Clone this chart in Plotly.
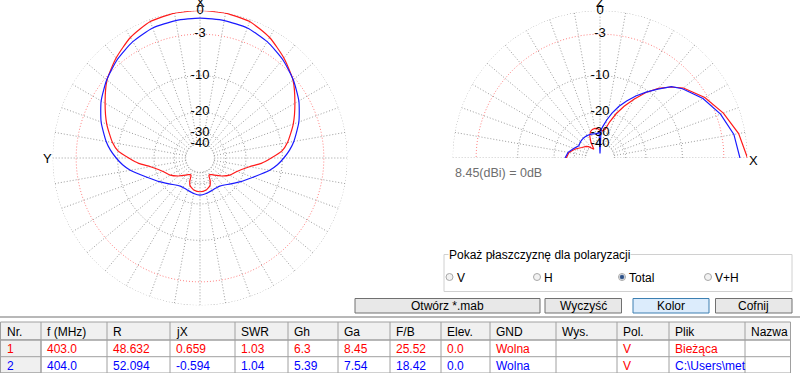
import plotly.graph_objects as go

W, H = 800, 373

# ---------------- data ----------------
# Horizontal-plane (azimuth) pattern, dB relative to 8.45 dBi (0 deg = X, 90 deg = Y)
az_theta = [0, 10, 20, 30, 40, 50, 60, 70, 80, 85, 90, 95, 100, 110, 120, 130, 140, 145, 150, 153, 156, 160, 170, 180,
            190, 200, 204, 207, 210, 215, 220, 230, 240, 250, 260, 265, 270, 275, 280, 290, 300, 310, 320, 330, 340, 350, 360]
az_red = [0.0, -0.05, -0.27, -1.0, -2.1, -3.35, -5.1, -6.8, -8.7, -10.0, -12.5, -15.0, -18.5, -22.7, -25.0, -28.5, -32.3, -34.0, -35.0, -34.5, -30.5, -27.8, -25.8, -25.3,
          -25.8, -27.8, -30.5, -34.5, -35.0, -34.0, -32.3, -28.5, -25.0, -22.7, -18.5, -15.0, -12.5, -10.0, -8.7, -6.8, -5.1, -3.35, -2.1, -1.0, -0.27, -0.05, 0.0]
az_blue = [-0.9, -0.95, -1.1, -1.6, -2.35, -3.3, -4.4, -5.8, -7.5, -8.5, -9.7, -11.0, -12.6, -16.5, -19.5, -22.3, -24.4, -25.0, -25.2, -25.2, -25.1, -24.9, -24.2, -23.7,
           -24.2, -24.9, -25.1, -25.2, -25.2, -25.0, -24.4, -22.3, -19.5, -16.5, -12.6, -11.0, -9.7, -8.5, -7.5, -5.8, -4.4, -3.3, -2.35, -1.6, -1.1, -0.95, -0.9]

# Vertical-plane (elevation) pattern, 0 deg = X horizon, 90 deg = Z
el_theta = [0, 10, 20, 30, 40, 45, 50, 55, 60, 65, 70, 75, 80, 85, 88, 90, 92, 95, 100, 105, 110, 115, 120, 125, 130, 135, 140, 150, 160, 170, 180]
el_red = [0.0, -0.8, -2.0, -3.4, -5.2, -6.6, -8.3, -10.5, -13.3, -16.3, -19.6, -23.5, -28.0, -29.0, -28.8, -28.5, -28.2, -27.6, -27.3, -27.6, -28.5, -31.0, -36.0, -45.0, -42.0, -38.0, -36.0, -33.5, -29.5, -26.5, -25.3]
el_blue = [-0.9, -1.4, -2.4, -3.7, -5.4, -6.5, -8.5, -10.4, -12.4, -14.6, -17.0, -19.8, -23.0, -26.5, -28.5, -60.0, -29.5, -30.5, -30.8, -30.5, -30.2, -30.0, -29.9, -29.9, -29.9, -30.0, -30.2, -30.8, -28.5, -26.0, -24.7]

ring_db = [0, -3, -10, -20, -30, -40]
ring_labels = ["0", "-3", "-10", "-20", "-30", "-40"]
ref_text = "8.45(dBi) = 0dB"

columns = ["Nr.", "f (MHz)", "R", "jX", "SWR", "Gh", "Ga", "F/B", "Elev.", "GND", "Wys.", "Pol.", "Plik", "Nazwa"]
row1 = ["1", "403.0", "48.632", "0.659", "1.03", "6.3", "8.45", "25.52", "0.0", "Wolna", "", "V", "Bieżąca", ""]
row2 = ["2", "404.0", "52.094", "-0.594", "1.04", "5.39", "7.54", "18.42", "0.0", "Wolna", "", "V", "C:\\Users\\met", ""]

radio_labels = ["V", "H", "Total", "V+H"]
button_labels = ["Otwórz *.mab", "Wyczyść", "Kolor", "Cofnij"]
group_title = "Pokaż płaszczyznę dla polaryzacji"

# ---------------- helpers ----------------
RED = "#ff1a1a"
BLUE = "#1a1aff"
GRID = "#9a9a9a"
FONT = "Liberation Sans, Arial, sans-serif"


def rad(db):
    # ARRL log scale used by MMANA
    return 0.89 ** (-db / 2.0)


def X(px):
    return px / W


def Y(py):
    return 1 - py / H


fig = go.Figure()


def add_grid(sub, full):
    tmax = 360 if full else 180
    thetas = list(range(0, tmax + 1, 2))
    for db in ring_db:
        col = "#ff8080" if db == -3 else GRID
        fig.add_trace(go.Scatterpolar(r=[rad(db)] * len(thetas), theta=thetas, mode="lines",
                                      line=dict(color=col, width=1, dash="1px,2px"),
                                      subplot=sub, showlegend=False, hoverinfo="skip", cliponaxis=False))
    rr, tt = [], []
    for a in range(0, tmax + (0 if full else 1), 10):
        rr += [rad(-40), 1.0, None]
        tt += [a, a, None]
    fig.add_trace(go.Scatterpolar(r=rr, theta=tt, mode="lines",
                                  line=dict(color=GRID, width=1, dash="1px,2px"),
                                  subplot=sub, showlegend=False, hoverinfo="skip", cliponaxis=False))


add_grid("polar", True)
add_grid("polar2", False)

# curves
fig.add_trace(go.Scatterpolar(r=[rad(v) for v in az_red], theta=az_theta, mode="lines",
                              line=dict(color=RED, width=1.2, shape="spline", smoothing=0.6),
                              subplot="polar", showlegend=False, cliponaxis=False))
fig.add_trace(go.Scatterpolar(r=[rad(v) for v in az_blue], theta=az_theta, mode="lines",
                              line=dict(color=BLUE, width=1.2, shape="spline", smoothing=0.6),
                              subplot="polar", showlegend=False, cliponaxis=False))
fig.add_trace(go.Scatterpolar(r=[rad(v) for v in el_red], theta=el_theta, mode="lines",
                              line=dict(color=RED, width=1.2),
                              subplot="polar2", showlegend=False, cliponaxis=False))
fig.add_trace(go.Scatterpolar(r=[rad(v) for v in el_blue], theta=el_theta, mode="lines",
                              line=dict(color=BLUE, width=1.2),
                              subplot="polar2", showlegend=False, cliponaxis=False))

# ring labels
fig.add_trace(go.Scatterpolar(r=[rad(v) for v in ring_db], theta=[0] * len(ring_db), mode="text",
                              text=ring_labels, textfont=dict(family=FONT, size=13, color="black"),
                              subplot="polar", showlegend=False, cliponaxis=False))
fig.add_trace(go.Scatterpolar(r=[rad(v) for v in ring_db], theta=[90] * len(ring_db), mode="text",
                              text=ring_labels, textfont=dict(family=FONT, size=13, color="black"),
                              subplot="polar2", showlegend=False, cliponaxis=False))

R0 = 147.5
fig.update_layout(
    width=W, height=H, margin=dict(l=0, r=0, t=0, b=0),
    paper_bgcolor="white", plot_bgcolor="white",
    font=dict(family=FONT, size=12, color="black"),
    polar=dict(domain=dict(x=[X(200 - R0), X(200 + R0)], y=[Y(158 + R0), Y(158 - R0)]),
               bgcolor="rgba(0,0,0,0)",
               radialaxis=dict(visible=False, range=[0, 1]),
               angularaxis=dict(visible=False, rotation=90, direction="counterclockwise")),
    polar2=dict(domain=dict(x=[X(600 - R0), X(600 + R0)], y=[Y(158), Y(158 - R0)]),
                sector=[0, 180], bgcolor="rgba(0,0,0,0)",
                radialaxis=dict(visible=False, range=[0, 1]),
                angularaxis=dict(visible=False, rotation=0, direction="counterclockwise")),
)

ann = []
shapes = []


def text(x, y, s, size=12, color="black", xanchor="left", bg=None):
    d = dict(x=X(x), y=Y(y), xref="paper", yref="paper", text=s, showarrow=False,
             xanchor=xanchor, yanchor="middle", font=dict(family=FONT, size=size, color=color))
    if bg:
        d["bgcolor"] = bg
        d["borderpad"] = 0
    ann.append(d)


def rect(x0, y0, x1, y1, line="#a0a0a0", fill=None, width=1):
    shapes.append(dict(type="rect", xref="paper", yref="paper", x0=X(x0), x1=X(x1), y0=Y(y1), y1=Y(y0),
                       line=dict(color=line, width=width), fillcolor=fill if fill else "rgba(0,0,0,0)", layer="above"))


def hline(x0, x1, y, color, width=1):
    shapes.append(dict(type="line", xref="paper", yref="paper", x0=X(x0), x1=X(x1), y0=Y(y), y1=Y(y),
                       line=dict(color=color, width=width), layer="above"))


def vline(x, y0, y1, color, width=1):
    shapes.append(dict(type="line", xref="paper", yref="paper", x0=X(x), x1=X(x), y0=Y(y0), y1=Y(y1),
                       line=dict(color=color, width=width), layer="above"))


# axis letters
text(200, 2, "X", 13, xanchor="center")
text(47, 158, "Y", 13, xanchor="center")
text(600, 2, "Z", 13, xanchor="center")
text(753, 160, "X", 13, xanchor="center")
text(453, 173, ref_text, 12.5, color="#6e6e6e")

# group box
rect(444, 254.5, 792, 291.5, line="#d0d0d0")
text(448, 255, group_title, 12, bg="white")
radio_x = [449.5, 537, 622, 708]
for lbl, rx in zip(radio_labels, radio_x):
    shapes.append(dict(type="circle", xref="paper", yref="paper", x0=X(rx - 3.5), x1=X(rx + 3.5),
                       y0=Y(277 + 3.5), y1=Y(277 - 3.5), line=dict(color="#a8a8a8", width=1),
                       fillcolor="#f2f2f2", layer="above"))
    if lbl == "Total":
        shapes.append(dict(type="circle", xref="paper", yref="paper", x0=X(rx - 2), x1=X(rx + 2),
                           y0=Y(277 + 2), y1=Y(277 - 2), line=dict(color="#2b4f86", width=0.5),
                           fillcolor="#2b4f86", layer="above"))
    text(rx + 5, 277.5, lbl, 12)

# buttons
btn_x = [(355, 540), (545, 621.5), (633, 709), (715.5, 792)]
for lbl, (bx0, bx1) in zip(button_labels, btn_x):
    if lbl == "Kolor":
        rect(bx0, 298.5, bx1, 313, line="#3c7fb1", fill="#dcecfc")
    else:
        rect(bx0, 298.5, bx1, 313, line="#707070", fill="#e8e8e8")
    text((bx0 + bx1) / 2, 306, lbl, 12, xanchor="center")

# separator
hline(0, 800, 317, "#a0a0a0", 1.5)

# table
col_edges = [0.5, 41, 107, 170, 235, 288, 338, 390, 441, 490, 556, 617, 669, 745, 790.5]
row_edges = [322, 340, 356.7, 373]
rect(0.5, 322, 790.5, 340, line="#a0a0a0", fill="#f0f0f0")
rect(0.5, 340, 41, 373, line="#a0a0a0", fill="#f0f0f0")
for y in row_edges[1:]:
    hline(0.5, 790.5, y, "#a0a0a0")
for x in col_edges:
    vline(x, 322, 373, "#a0a0a0")
for i, name in enumerate(columns):
    text(col_edges[i] + 4, 331.5, name, 12)
for i, v in enumerate(row1):
    if v:
        text(col_edges[i] + 4, 348.5, v, 12, color="red")
for i, v in enumerate(row2):
    if v:
        c = "red" if columns[i] == "Pol." else "blue"
        text(col_edges[i] + 4, 365.5, v, 12, color=c)

fig.update_layout(annotations=ann, shapes=shapes)
fig.write_html("out.html", config={"displayModeBar": False},
               post_script="document.body.style.margin='0';")
